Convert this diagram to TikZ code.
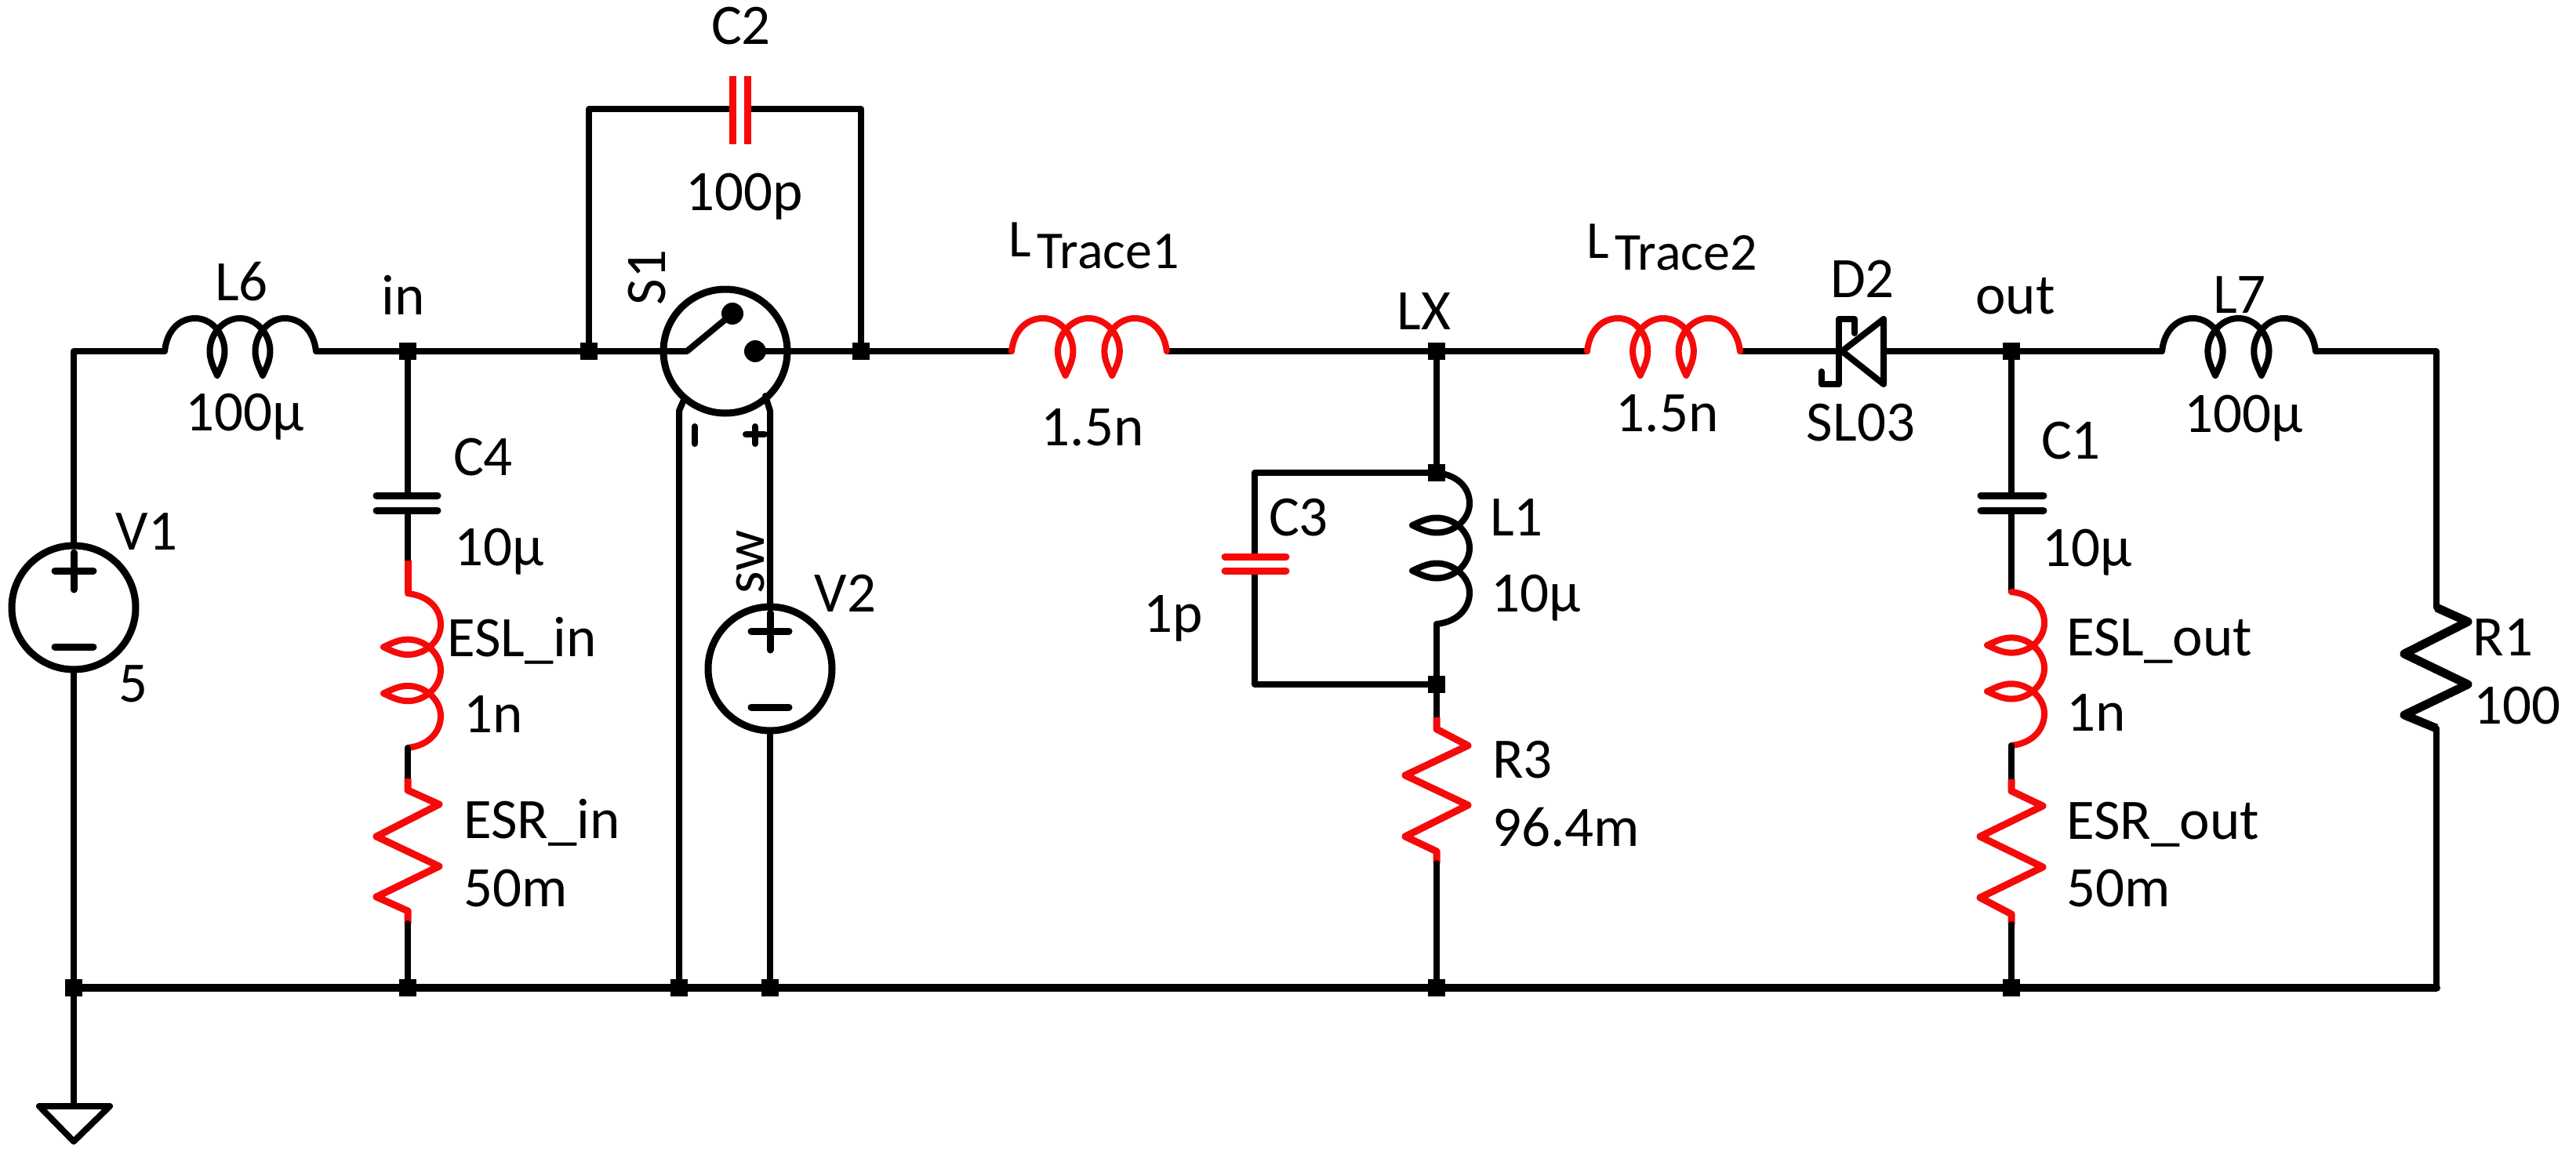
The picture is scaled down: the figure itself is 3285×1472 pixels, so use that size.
\documentclass[tikz,border=0pt]{standalone}
\usepackage{fontspec}
\setmainfont{Carlito}
\definecolor{cred}{RGB}{245,10,10}
\tikzset{
  wire/.style={line width=8pt,line join=round,line cap=round,draw=black},
  rwire/.style={line width=9pt,line join=round,draw=cred},
  bus/.style={line width=10pt,line cap=round,draw=black},
  plate/.style={line width=9pt,line cap=round},
  junc/.style={fill=black,inner sep=0pt,minimum size=22pt,rectangle},
  src/.style={circle,draw=black,line width=9pt,inner sep=0pt,minimum size=158pt,fill=white},
  lab/.style={inner sep=0pt,text height=47pt,text depth=0pt,font=\fontsize{73}{73}\selectfont},
  tracelab/.style={lab,font=\fontsize{68}{68}\selectfont},
  coil/.pic={
    \draw[line width=8pt,line join=round,line cap=round,pic actions]
      (0,0) .. controls (3,-28) and (20,-42) .. (39,-42)
      .. controls (60,-42) and (76.5,-22) .. (76.5,0)
      .. controls (76.5,12) and (71,22) .. (67,31)
      .. controls (63,22) and (57.5,12) .. (57.5,0)
      .. controls (57.5,-22) and (75,-42) .. (96,-42)
      .. controls (117,-42) and (134.5,-22) .. (134.5,0)
      .. controls (134.5,12) and (129,22) .. (125,31)
      .. controls (121,22) and (115.5,12) .. (115.5,0)
      .. controls (115.5,-22) and (133,-42) .. (153,-42)
      .. controls (172,-42) and (190,-28) .. (193,0);
  }
}
\begin{document}
\begin{tikzpicture}[x=1pt,y=-1pt]
\useasboundingbox (0,0) rectangle (3285,1472);

% junctions
\node[junc] (jin) at (520,448) {};
\node[junc] (js1) at (751,448) {};
\node[junc] (js2) at (1098,448) {};
\node[junc] (jlx) at (1832,448) {};
\node[junc] (jlt) at (1832,603) {};
\node[junc] (jlb) at (1832,873) {};
\node[junc] (jout) at (2565,448) {};
\node[junc] (g1) at (94,1260) {};
\node[junc] (g2) at (520,1260) {};
\node[junc] (g3) at (866,1260) {};
\node[junc] (g4) at (982,1260) {};
\node[junc] (g5) at (1832,1260) {};
\node[junc] (g6) at (2565,1260) {};

% terminal coordinates
\coordinate (tl) at (94,448);
\coordinate (l6a) at (210,448);
\coordinate (l6b) at (403,448);
\coordinate (swa) at (876,448);
\coordinate (swb) at (934,400);
\coordinate (swc) at (963,448);
\coordinate (c2tl) at (751,139);
\coordinate (c2tr) at (1098,139);
\coordinate (c2a) at (934,139);
\coordinate (c2b) at (953,139);
\coordinate (t1a) at (1290,448);
\coordinate (t1b) at (1488,448);
\coordinate (t2a) at (2024,448);
\coordinate (t2b) at (2219,448);
\coordinate (da) at (2349,448);
\coordinate (db) at (2402,448);
\coordinate (l7a) at (2757,448);
\coordinate (l7b) at (2953,448);
\coordinate (tr) at (3107,448);
\coordinate (br) at (3107,1260);
\coordinate (r1a) at (3107,775);
\coordinate (r1b) at (3107,929);
\coordinate (gnd) at (94,1411);

% sources
\node[src] (V1) at (94,775) {};
\node[src] (V2) at (982,853) {};
\node[src,fill=none] (S1) at (925,448) {};

% wires
\draw[wire] (V1.north) -- (tl) -- (l6a);
\draw[wire] (l6b) -- (jin) -- (js1) -- (swa) -- (swb);
\draw[wire] (swc) -- (js2) -- (1200,448) -- (t1a);
\draw[wire] (t1b) -- (jlx) -- (t2a);
\draw[wire] (t2b) -- (2345,448);
\draw[wire] (db) -- (jout) -- (l7a);
\draw[wire] (l7b) -- (tr) -- (r1a);
\draw[wire] (r1b) -- (br);
\draw[wire] (V1.south) -- (g1) -- (gnd);
\draw[bus] (g1) -- (br);
\draw[wire] (js1) -- (c2tl) -- (c2a);
\draw[wire] (js2) -- (c2tr) -- (c2b);
\draw[wire] (g3) -- (866,524) -- (872,510);
\draw[wire] (V2.north) -- (982,524) -- (976,505);
\draw[wire] (V2.south) -- (g4);
\fill (swb) circle (14);
\fill (swc) circle (14);

% C4 branch
\draw[wire] (jin) -- (520,632);
\draw[wire] (520,651) -- (520,715);
\draw[plate] (480,632) -- (558,632);
\draw[plate] (480,651) -- (558,651);
\draw[rwire] (520,715) -- (520,757);
\pic[draw=cred,line width=10pt,rotate=-90,xscale=1.02] at (520,757) {coil};
\draw[wire] (520,954) -- (520,993);
\draw[rwire] (520,993) -- (520,1008) -- (560,1026) -- (480,1067) -- (560,1105) -- (480,1144) -- (520,1162) -- (520,1178);
\draw[wire] (520,1178) -- (g2);

% C2
\draw[plate,draw=cred,line cap=butt] (934,97) -- (934,184);
\draw[plate,draw=cred,line cap=butt] (953,97) -- (953,184);

% coils
\pic[draw=black] at (l6a) {coil};
\pic[draw=cred,line width=9pt,xscale=1.025] at (t1a) {coil};
\pic[draw=cred,line width=9pt,xscale=1.01] at (t2a) {coil};
\pic[draw=black,xscale=1.015] at (l7a) {coil};

% LX branch
\draw[wire] (jlx) -- (jlt) -- (1600,603) -- (1600,710);
\draw[wire] (1600,728) -- (1600,873) -- (jlb);
\draw[plate,draw=cred] (1562,710) -- (1640,710);
\draw[plate,draw=cred] (1562,728) -- (1640,728);
\pic[draw=black,rotate=-90] at (jlt) {coil};
\draw[wire] (1832,796) -- (jlb) -- (1832,915);
\draw[rwire] (1832,915) -- (1832,930) -- (1872,951) -- (1792,989) -- (1872,1027) -- (1792,1067) -- (1832,1086) -- (1832,1101);
\draw[wire] (1832,1101) -- (g5);

% diode
\draw[wire,miter limit=10] (2402,407) -- (2402,490) -- (da) -- cycle;
\draw[wire] (2365,425) -- (2365,407) -- (2345,407) -- (2345,490) -- (2323,490) -- (2323,474);

% C1 branch
\draw[wire] (jout) -- (2565,632);
\draw[wire] (2565,651) -- (2565,755);
\draw[plate] (2526,632) -- (2606,632);
\draw[plate] (2526,651) -- (2606,651);
\pic[draw=cred,line width=9pt,rotate=-90,xscale=1.015] at (2565,755) {coil};
\draw[wire] (2565,951) -- (2565,994);
\draw[rwire] (2565,994) -- (2565,1009) -- (2605,1028) -- (2525,1067) -- (2605,1106) -- (2525,1145) -- (2565,1166) -- (2565,1179);
\draw[wire] (2565,1179) -- (g6);

% R1
\draw[line width=11pt,line join=round] (r1a) -- (3147,793) -- (3066,834) -- (3147,873) -- (3066,912) -- (r1b);

% ground
\draw[wire] (50,1411) -- (140,1411) -- (94,1456) -- cycle;

% source signs
\draw[plate] (70,728) -- (119,728);
\draw[plate] (94,705) -- (94,752);
\draw[plate] (70,825) -- (119,825);
\draw[plate] (958,805) -- (1006,805);
\draw[plate] (982,782) -- (982,829);
\draw[plate] (958,902) -- (1006,902);
\draw[plate,line width=8pt] (886,544) -- (886,566);
\draw[plate,line width=8pt] (951,554) -- (975,554);
\draw[plate,line width=8pt] (963,544) -- (963,566);

% labels
\node[lab] (lC2) at (945,33) {C2};
\node[lab] (vC2) at (949,245) {100p};
\node[lab] (lL6) at (308,360) {L6};
\node[lab] (vL6) at (312,526) {100µ};
\node[lab] (lin) at (514,378) {in};
\node[lab,rotate=90] (lS1) at (825,354) {S1};
\node[lab] (lC4) at (616,583) {C4};
\node[lab] (vC4) at (637,698) {10µ};
\node[lab] (lV1) at (187,678) {V1};
\node[lab] (vV1) at (170,872) {5};
\node[lab,rotate=90] (lsw) at (951,717) {sw};
\node[lab] (lV2) at (1078,757) {V2};
\node[lab,anchor=west] (lESLi) at (570,814) {ESL\_in};
\node[lab,anchor=west] (vESLi) at (591,911) {1n};
\node[lab,anchor=west] (lESRi) at (591,1046) {ESR\_in};
\node[lab,anchor=west] (vESRi) at (591,1133) {50m};
\node[tracelab,anchor=west] (lT1) at (1286,304) {L\kern8pt\raisebox{-15pt}{Trace1}};
\node[lab] (vT1) at (1393,545) {1.5n};
\node[lab] (lLX) at (1816,397) {LX};
\node[tracelab,anchor=west] (lT2) at (2023,306) {L\kern8pt\raisebox{-15pt}{Trace2}};
\node[lab] (vT2) at (2126,527) {1.5n};
\node[lab] (lC3) at (1656,660) {C3};
\node[lab] (vC3) at (1496,783) {1p};
\node[lab] (lL1) at (1934,660) {L1};
\node[lab] (vL1) at (1959,757) {10µ};
\node[lab,anchor=west] (lR3) at (1903,969) {R3};
\node[lab,anchor=west] (vR3) at (1903,1056) {96.4m};
\node[lab] (lD2) at (2375,356) {D2};
\node[lab] (vD2) at (2373,539) {SL03};
\node[lab] (lout) at (2570,377) {out};
\node[lab] (lL7) at (2856,376) {L7};
\node[lab] (vL7) at (2861,528) {100µ};
\node[lab] (lC1) at (2641,562) {C1};
\node[lab] (vC1) at (2662,699) {10µ};
\node[lab,anchor=west] (lESLo) at (2635,813) {ESL\_out};
\node[lab,anchor=west] (vESLo) at (2635,909) {1n};
\node[lab,anchor=west] (lESRo) at (2635,1047) {ESR\_out};
\node[lab,anchor=west] (vESRo) at (2635,1133) {50m};
\node[lab] (lR1) at (3192,813) {R1};
\node[lab] (vR1) at (3210,900) {100};
\end{tikzpicture}
\end{document}
